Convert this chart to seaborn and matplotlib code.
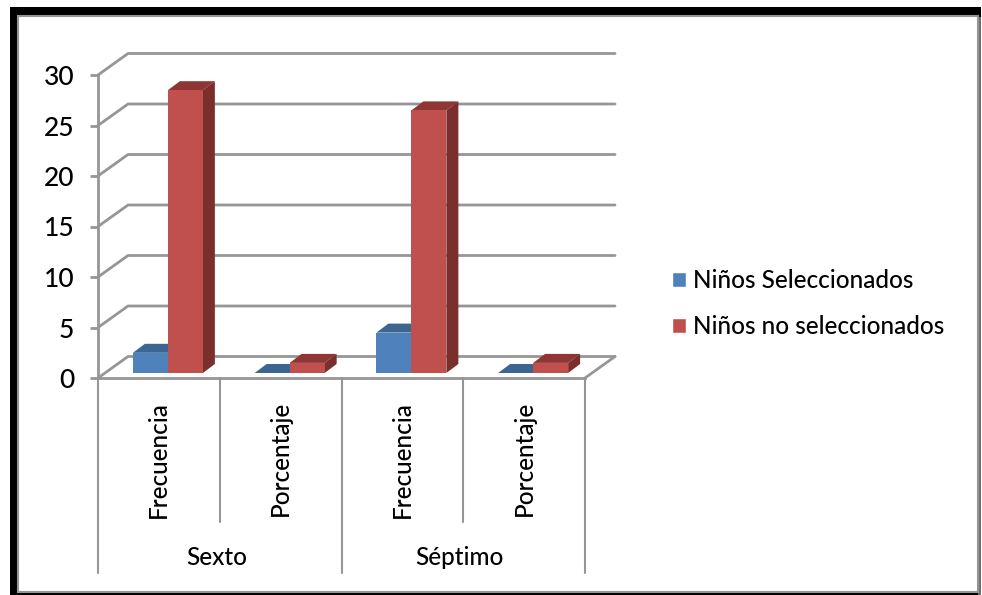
import pandas as pd
import matplotlib
matplotlib.use("Agg")
import matplotlib.pyplot as plt
from matplotlib.patches import Rectangle, Polygon
import seaborn as sns

# datos
grupos = ["Sexto", "Sexto", "Séptimo", "Séptimo"]
medidas = ["Frecuencia", "Porcentaje", "Frecuencia", "Porcentaje"]
seleccionados = [2, 0, 4, 0]
no_seleccionados = [28, 1, 26, 1]
serie_a = "Niños Seleccionados"
serie_b = "Niños no seleccionados"
yticks = [0, 5, 10, 15, 20, 25, 30]

W, H = 982, 595
GRIS = "#969696"
azul, azul_top = "#4F81BD", "#3C6591"
rojo, rojo_top, rojo_lado = "#C0504D", "#8F3634", "#7B2F2D"
TAM = 17.5

sns.set_style("white")
plt.rcParams["font.family"] = ["Lato", "DejaVu Sans"]
plt.rcParams["font.weight"] = "medium"
plt.rcParams["text.color"] = "black"

etiquetas = [g + " " + m for g, m in zip(grupos, medidas)]
df = pd.DataFrame({
    "cat": etiquetas * 2,
    "valor": seleccionados + no_seleccionados,
    "serie": [serie_a] * 4 + [serie_b] * 4,
})


def caja(x0, y_top, x1, y_bot):
    # pixeles de la imagen -> fraccion de figura
    return [x0 / W, 1 - y_bot / H, (x1 - x0) / W, (y_bot - y_top) / H]


fig = plt.figure(figsize=(W / 100, H / 100), dpi=100, facecolor="white")

# marco negro del grafico
fig.patches.append(Rectangle((10 / W, 0), 971 / W, 1 - 7 / H, transform=fig.transFigure, fc="black", ec="none", zorder=-3))
fig.patches.append(Rectangle((978 / W, 0), 3 / W, 1 - 17 / H, transform=fig.transFigure, fc="#707070", ec="none", zorder=-2))
fig.patches.append(Rectangle((18 / W, 3 / H), 960 / W, 1 - 19 / H, transform=fig.transFigure, fc="white", ec=GRIS, lw=1.5, zorder=-1))

# plano frontal: ejes, paredes y etiquetas
ax = fig.add_axes(caja(98, 75, 585, 378), zorder=1)
ax.set_xlim(0, 4)
ax.set_ylim(0, 30)
ax.patch.set_visible(False)
sns.despine(ax=ax)
for lado in ["left", "bottom"]:
    ax.spines[lado].set_color(GRIS)
    ax.spines[lado].set_linewidth(2)
ax.set_yticks(yticks)
ax.tick_params(axis="y", left=True, length=6, width=2, color=GRIS, labelsize=19, pad=11, labelcolor="black")

px_x = 487 / 4
px_y = 303 / 30
fondo_x = 30 / px_x
fondo_y = 21.5 / px_y
for t in yticks:
    ax.plot([0, fondo_x, 4 + fondo_x], [t, t + fondo_y, t + fondo_y], color=GRIS, lw=2, clip_on=False, zorder=1,
            solid_joinstyle="round")
ax.plot([4, 4 + fondo_x], [0, fondo_y], color=GRIS, lw=2, clip_on=False, zorder=1)

ax.set_xticks([i + 0.5 for i in range(4)])
ax.set_xticklabels(medidas, rotation=90, fontsize=TAM, color="black")
ax.tick_params(axis="x", bottom=False, pad=13)

# separadores de categorias y grupos
trans = ax.get_xaxis_transform()
for x in [1, 3]:
    ax.plot([x, x], [0, -0.475], color=GRIS, lw=1.5, transform=trans, clip_on=False)
for x in [0, 2, 4]:
    ax.plot([x, x], [0, -0.644], color=GRIS, lw=1.5, transform=trans, clip_on=False)
for x, grupo in zip([0.975, 2.97], [grupos[0], grupos[2]]):
    ax.text(x, -0.592, grupo, transform=trans, ha="center", va="center", fontsize=TAM, color="black")

# barras, un poco hacia el fondo
ax_b = fig.add_axes(caja(107, 70, 594, 373), zorder=2)
ax_b.patch.set_visible(False)
sns.barplot(data=df, x="cat", y="valor", hue="serie", order=etiquetas, hue_order=[serie_a, serie_b],
            palette=[azul, rojo], width=0.575, saturation=1, errorbar=None, ax=ax_b)
ax_b.set_xlim(-0.5, 3.5)
ax_b.set_ylim(0, 30)
ax_b.axis("off")

prof_x = 12 / px_x
prof_y = 9 / px_y
caras = [(ax_b.containers[0], azul_top, "#34587F"), (ax_b.containers[1], rojo_top, rojo_lado)]
for cont, c_top, c_lado in caras:
    for bar in cont:
        bar.set_linewidth(0)
        bar.set_zorder(3)
        x0, w, h = bar.get_x(), bar.get_width(), bar.get_height()
        x1 = x0 + w
        ax_b.add_patch(Polygon([(x0, h), (x1, h), (x1 + prof_x, h + prof_y), (x0 + prof_x, h + prof_y)],
                               fc=c_top, ec="none", zorder=2, clip_on=False))
        ax_b.add_patch(Polygon([(x1, 0), (x1 + prof_x, prof_y), (x1 + prof_x, h + prof_y), (x1, h)],
                               fc=c_lado, ec="none", zorder=2, clip_on=False))

sns.move_legend(ax_b, "center left", bbox_to_anchor=(672 / W, 1 - 303.5 / H), bbox_transform=fig.transFigure,
                title=None, frameon=False, fontsize=TAM, handlelength=0.58, handleheight=0.58, handletextpad=0.3,
                labelspacing=0.97, borderpad=0, borderaxespad=0)

fig.savefig("out.png", dpi=100)
